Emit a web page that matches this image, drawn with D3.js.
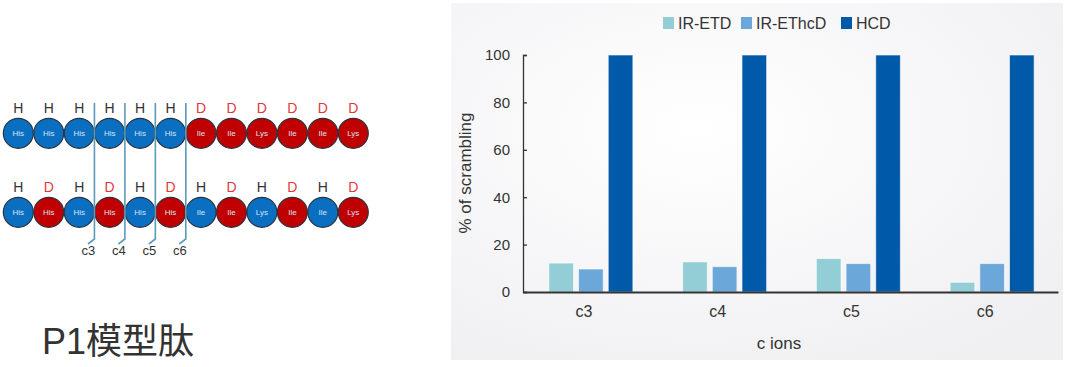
<!DOCTYPE html>
<html>
<head>
<meta charset="utf-8">
<script src="https://cdn.jsdelivr.net/npm/d3@7"></script>
<style>
  html, body { margin: 0; padding: 0; background: #fff; }
  svg { display: block; font-family: "Liberation Sans", Arial, sans-serif; }
</style>
</head>
<body>
<svg id="chart" width="1066" height="367"></svg>
<script>
// ── Data ────────────────────────────────────────────────────────
const categories = ['c3', 'c4', 'c5', 'c6'];
const seriesNames = ['IR-ETD', 'IR-EThcD', 'HCD'];
const irEtd   = [12.2, 12.7, 14.1, 4.1];
const irEthcd = [9.7, 10.7, 12.0, 12.0];
const hcd     = [100, 100, 100, 100];
const yTicks  = [0, 20, 40, 60, 80, 100];

// peptide model (left diagram)
const residues1 = ['His', 'His', 'His', 'His', 'His', 'His', 'Ile', 'Ile', 'Lys', 'Ile', 'Ile', 'Lys'];
const labels1   = ['H', 'H', 'H', 'H', 'H', 'H', 'D', 'D', 'D', 'D', 'D', 'D'];
const residues2 = ['His', 'His', 'His', 'His', 'His', 'His', 'Ile', 'Ile', 'Lys', 'Ile', 'Ile', 'Lys'];
const labels2   = ['H', 'D', 'H', 'D', 'H', 'D', 'H', 'D', 'H', 'D', 'H', 'D'];
const cleavages = ['c3', 'c4', 'c5', 'c6'];

const colors = { 'IR-ETD': '#93cdd6', 'IR-EThcD': '#6ca7da', 'HCD': '#005aa9' };
const labelColor = { H: '#333333', D: '#e0393a' };
const fillFor = { H: '#0b6fc1', D: '#c00000' };

const svg = d3.select('#chart');

// ── Left: peptide diagram ───────────────────────────────────────
const left = svg.append('g');
const px = d3.scaleLinear().domain([0, 11]).range([18.3, 353.3]);
const rowY = [133.3, 212.3];
const rows = [
  { res: residues1, lab: labels1 },
  { res: residues2, lab: labels2 }
];

rows.forEach((row, r) => {
  const g = left.append('g');
  const idx = d3.range(row.res.length);
  g.selectAll('circle').data(idx).join('circle')
    .attr('cx', i => px(i)).attr('cy', rowY[r]).attr('r', 15)
    .attr('fill', i => fillFor[row.lab[i]])
    .attr('stroke', '#2b3440').attr('stroke-width', 1.2);
  g.selectAll('text.res').data(idx).join('text')
    .attr('class', 'res')
    .attr('x', i => px(i)).attr('y', rowY[r] + 3)
    .attr('text-anchor', 'middle')
    .attr('font-size', 8).attr('fill', '#d6e3f2')
    .text(i => row.res[i]);
  g.selectAll('text.hd').data(idx).join('text')
    .attr('class', 'hd')
    .attr('x', i => px(i)).attr('y', rowY[r] - 20)
    .attr('text-anchor', 'middle')
    .attr('font-size', 14).attr('fill', i => labelColor[row.lab[i]])
    .text(i => row.lab[i]);
});

// cleavage sites sit between residues 3|4, 4|5, 5|6, 6|7
cleavages.forEach((c, k) => {
  const x = (px(k + 2) + px(k + 3)) / 2;
  left.append('path')
    .attr('d', `M${x},103 L${x},239 L${x - 6.5},244`)
    .attr('fill', 'none').attr('stroke', '#5b9bb8').attr('stroke-width', 1.6);
  left.append('text')
    .attr('x', x - 6).attr('y', 255)
    .attr('text-anchor', 'middle')
    .attr('font-size', 13).attr('fill', '#333')
    .text(c);
});

const title = left.append('text')
  .attr('x', 42).attr('y', 354)
  .attr('font-size', 36).attr('fill', '#333');
title.append('tspan').attr('font-family', '"Liberation Sans", Arial, sans-serif').text('P1');
title.append('tspan').attr('font-family', '"Noto Sans CJK SC", sans-serif').text('模型肽');

// ── Right: bar chart panel ──────────────────────────────────────
const defs = svg.append('defs');
const grad = defs.append('radialGradient').attr('id', 'panelBg')
  .attr('cx', '40%').attr('cy', '35%').attr('r', '75%');
grad.append('stop').attr('offset', '0%').attr('stop-color', '#ffffff');
grad.append('stop').attr('offset', '100%').attr('stop-color', '#f0f0f3');

svg.append('rect')
  .attr('x', 451).attr('y', 3).attr('width', 612).attr('height', 357)
  .attr('fill', 'url(#panelBg)');

const plot = { left: 523, right: 1058, top: 55, bottom: 292 };

const x0 = d3.scaleBand().domain(categories).range([plot.left, plot.right]);
const groupW = 84;
const x1 = d3.scaleBand().domain(seriesNames).range([0, groupW]).paddingInner(0.17);
const y = d3.scaleLinear().domain([0, 100]).range([plot.bottom, plot.top]);

const seriesValues = { 'IR-ETD': irEtd, 'IR-EThcD': irEthcd, 'HCD': hcd };

const chart = svg.append('g');

categories.forEach((cat, ci) => {
  const gx = x0(cat) + x0.bandwidth() / 2 - groupW / 2 + 1;
  chart.append('g')
    .attr('transform', `translate(${gx},0)`)
    .selectAll('rect')
    .data(seriesNames.map(s => ({ s, v: seriesValues[s][ci] })))
    .join('rect')
    .attr('x', d => x1(d.s))
    .attr('y', d => y(d.v))
    .attr('width', x1.bandwidth())
    .attr('height', d => y(0) - y(d.v))
    .attr('fill', d => colors[d.s])
    .attr('stroke', '#ffffff').attr('stroke-opacity', 0.6).attr('stroke-width', 1);
});

// y axis
const yAxis = d3.axisLeft(y).tickValues(yTicks).tickSize(-4).tickPadding(13);
const yg = chart.append('g').attr('transform', `translate(${plot.left},0)`).call(yAxis);
yg.select('.domain').attr('stroke', '#333').attr('stroke-width', 1.3);
yg.selectAll('.tick line').attr('stroke', '#333').attr('stroke-width', 1.3);
yg.selectAll('.tick text').attr('font-size', 15).attr('fill', '#333')
  .attr('font-family', '"Liberation Sans", Arial, sans-serif');

// x axis
const xAxis = d3.axisBottom(x0).tickSize(0).tickPadding(14);
const xg = chart.append('g').attr('transform', `translate(0,${plot.bottom})`).call(xAxis);
xg.select('.domain').attr('stroke', '#333').attr('stroke-width', 2);
xg.selectAll('.tick text').attr('font-size', 16).attr('fill', '#333')
  .attr('dx', -6)
  .attr('font-family', '"Liberation Sans", Arial, sans-serif');

// axis titles
chart.append('text')
  .attr('transform', `translate(471,173) rotate(-90)`)
  .attr('text-anchor', 'middle')
  .attr('font-size', 17).attr('fill', '#333')
  .text('% of scrambling');

chart.append('text')
  .attr('x', 779).attr('y', 349)
  .attr('text-anchor', 'middle')
  .attr('font-size', 17).attr('fill', '#333')
  .text('c ions');

// legend
const legendX = [663, 741, 841];
const legend = chart.append('g');
seriesNames.forEach((s, i) => {
  legend.append('rect')
    .attr('x', legendX[i]).attr('y', 17).attr('width', 11).attr('height', 12)
    .attr('fill', colors[s]);
  legend.append('text')
    .attr('x', legendX[i] + 15).attr('y', 28.5)
    .attr('font-size', 16).attr('fill', '#333')
    .text(s);
});
</script>
</body>
</html>
